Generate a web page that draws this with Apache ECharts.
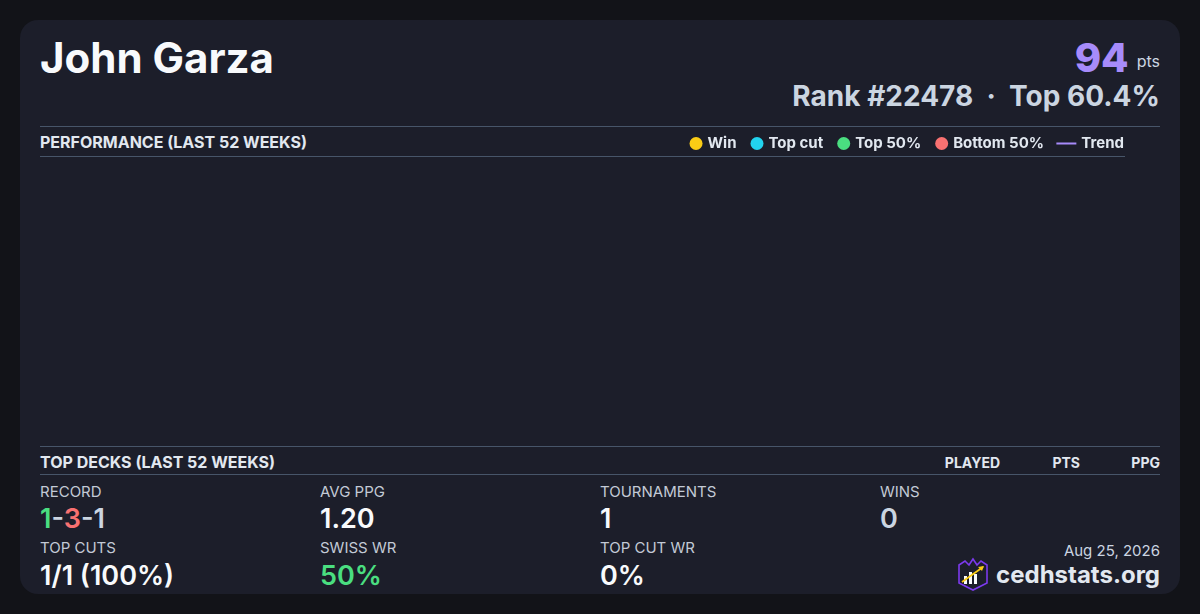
<!DOCTYPE html>
<html>
<head>
<meta charset="utf-8">
<script src="https://cdn.jsdelivr.net/npm/echarts@6/dist/echarts.min.js"></script>
<style>
  html,body{margin:0;padding:0;width:1200px;height:614px;background:#121318;overflow:hidden;font-family:Inter,"Noto Sans",sans-serif;}
  #card{position:absolute;left:20px;top:20px;width:1160px;height:574px;background:#1c1e2a;border-radius:18px;}
  .abs{position:absolute;line-height:1;white-space:nowrap;}
  .hline{position:absolute;height:1px;background:#475569;}
  .lbl{font-size:15px;color:#c3cad6;font-weight:400;}
  .val{font-size:27px;font-weight:600;color:#f8fafc;}
  .hdr{font-size:16px;font-weight:700;color:#e2e8f0;}
  .col{font-size:14px;font-weight:700;color:#e2e8f0;}
  #chart{position:absolute;left:40px;top:126px;width:1120px;height:320px;}
</style>
</head>
<body>
<div id="card"></div>
<div class="abs" style="left:40px;top:37px;font-size:42px;font-weight:700;color:#f8fafc;">John Garza</div>
<div class="abs" style="right:40px;top:38px;">
  <span style="font-size:40px;font-weight:800;color:#a78bfa;">94</span><span style="font-size:16px;color:#cbd5e1;margin-left:8px;position:relative;top:-5px;">pts</span>
</div>
<div class="abs" style="right:40px;top:82px;font-size:28px;font-weight:700;color:#cbd5e1;">Rank #22478 &nbsp;·&nbsp; Top 60.4%</div>

<div class="hline" style="left:40px;top:126px;width:1120px;"></div>
<div class="hline" style="left:40px;top:156px;width:1085px;"></div>
<div class="abs hdr" style="left:40px;top:134px;">PERFORMANCE (LAST 52 WEEKS)</div>
<div id="chart"></div>

<div class="hline" style="left:40px;top:446px;width:1120px;"></div>
<div class="hline" style="left:40px;top:474px;width:1120px;"></div>
<div class="abs hdr" style="left:40px;top:454px;">TOP DECKS (LAST 52 WEEKS)</div>
<div class="abs col" style="right:200px;top:456px;">PLAYED</div>
<div class="abs col" style="right:120px;top:456px;">PTS</div>
<div class="abs col" style="right:40px;top:456px;">PPG</div>

<div class="abs lbl" style="left:40px;top:484px;">RECORD</div>
<div class="abs val" style="left:40px;top:505px;"><span style="color:#4ade80">1</span><span style="color:#cbd5e1">-</span><span style="color:#f87171">3</span><span style="color:#cbd5e1">-1</span></div>
<div class="abs lbl" style="left:320px;top:484px;">AVG PPG</div>
<div class="abs val" style="left:320px;top:505px;">1.20</div>
<div class="abs lbl" style="left:600px;top:484px;">TOURNAMENTS</div>
<div class="abs val" style="left:600px;top:505px;">1</div>
<div class="abs lbl" style="left:880px;top:484px;">WINS</div>
<div class="abs val" style="left:880px;top:505px;color:#cbd5e1;">0</div>

<div class="abs lbl" style="left:40px;top:540px;">TOP CUTS</div>
<div class="abs val" style="left:40px;top:562px;">1/1 (100%)</div>
<div class="abs lbl" style="left:320px;top:540px;">SWISS WR</div>
<div class="abs val" style="left:320px;top:562px;color:#4ade80;">50%</div>
<div class="abs lbl" style="left:600px;top:540px;">TOP CUT WR</div>
<div class="abs val" style="left:600px;top:562px;">0%</div>

<div class="abs lbl" style="right:40px;top:543px;color:#cbd5e1;">Aug 25, 2026</div>
<div class="abs" style="right:40px;top:563px;font-size:24px;font-weight:700;color:#e2e8f0;">cedhstats.org</div>
<svg class="abs" style="left:956px;top:557px;" width="34" height="34" viewBox="0 0 34 34">
  <path d="M3 8 L9 4 L13 8 L17 2 L21 8 L25 4 L31 8 L31 26 L17 33 L3 26 Z" fill="#1c1e2a" stroke="#7c3aed" stroke-width="1.6"/>
  <rect x="8" y="19" width="3" height="8" fill="#f8fafc"/>
  <rect x="13" y="15" width="3" height="12" fill="#f8fafc"/>
  <rect x="18" y="17" width="3" height="10" fill="#f8fafc"/>
  <line x1="6" y1="25" x2="27" y2="10" stroke="#facc15" stroke-width="1.8"/>
  <path d="M28 9 L22 10 L26 14 Z" fill="#facc15"/>
</svg>

<script>
// Performance data (last 52 weeks): no plotted points in the reference
const weeks = [];
const winPoints = [];
const topCutPoints = [];
const top50Points = [];
const bottom50Points = [];
const trendValues = [];
const legendMarks = ['Win', 'Top cut', 'Top 50%', 'Bottom 50%'];
const legendLines = ['Trend'];

const chart = echarts.init(document.getElementById('chart'));
const legendText = {color:'#e2e8f0', fontSize:15, fontWeight:'bold', fontFamily:'Inter'};
chart.setOption({
  animation:false,
  backgroundColor:'transparent',
  legend:[
    {data:legendMarks, right:111, top:5, icon:'circle', itemWidth:13, itemHeight:13, itemGap:14, textStyle:legendText, selectedMode:false},
    {data:legendLines, right:31, top:5, icon:'rect', itemWidth:20, itemHeight:2, textStyle:legendText, selectedMode:false}
  ],
  grid:{left:0, right:35, top:40, bottom:10},
  xAxis:{type:'category', data:weeks, show:false},
  yAxis:{type:'value', show:false},
  series:[
    {name:'Win', type:'scatter', data:winPoints, itemStyle:{color:'#facc15', opacity:1}},
    {name:'Top cut', type:'scatter', data:topCutPoints, itemStyle:{color:'#22d3ee', opacity:1}},
    {name:'Top 50%', type:'scatter', data:top50Points, itemStyle:{color:'#4ade80', opacity:1}},
    {name:'Bottom 50%', type:'scatter', data:bottom50Points, itemStyle:{color:'#f87171', opacity:1}},
    {name:'Trend', type:'line', data:trendValues, showSymbol:false, itemStyle:{color:'#a78bfa'}, lineStyle:{color:'#a78bfa', width:2}}
  ]
});
</script>
</body>
</html>
